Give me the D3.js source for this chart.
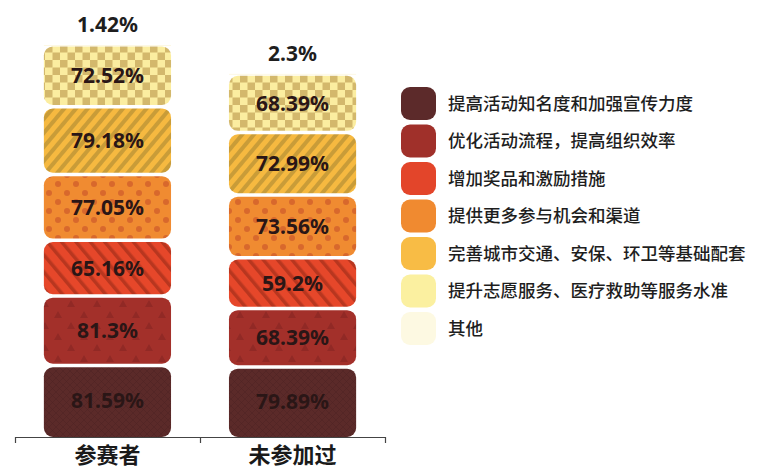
<!DOCTYPE html>
<html>
<head>
<meta charset="utf-8">
<script src="https://cdn.jsdelivr.net/npm/d3@7"></script>
<style>
  body { margin: 0; background: #fff; }
  svg { display: block; font-family: "Noto Sans", "Noto Sans CJK SC", sans-serif; }
</style>
</head>
<body>
<div id="vis"></div>
<script>
'use strict'

// categories and series
const categories = ["参赛者", "未参加过"];
const seriesNames = [
  "提高活动知名度和加强宣传力度",
  "优化活动流程，提高组织效率",
  "增加奖品和激励措施",
  "提供更多参与机会和渠道",
  "完善城市交通、安保、环卫等基础配套",
  "提升志愿服务、医疗救助等服务水准",
  "其他"
];
// values per category, bottom segment first
const participantValues = [81.59, 81.3, 65.16, 77.05, 79.18, 72.52, 1.42];
const nonParticipantValues = [79.89, 68.39, 59.2, 73.56, 72.99, 68.39, 2.3];

const seriesColors = ["#5b2a29", "#a3302a", "#e6472a", "#f08b31", "#f6b940", "#fbeda0", "#fdf7dd"];
const legendColors = ["#5c2a2a", "#a0302a", "#e3452a", "#f08a30", "#f8bc45", "#fbf0a0", "#fdf9e2"];

////////////////////////////////////////
////////////// Setup ///////////////////
////////////////////////////////////////

const width = 768, height = 472;
const svg = d3.select('#vis').append('svg')
  .attr('width', width)
  .attr('height', height);

const table = categories.map((c, i) => {
  const vals = i === 0 ? participantValues : nonParticipantValues;
  const row = { category: c };
  seriesNames.forEach((s, j) => row[s] = vals[j]);
  return row;
});

const stacked = d3.stack().keys(seriesNames)(table);

const x = d3.scaleBand().domain(categories).range([15, 385]).paddingInner(0.313).paddingOuter(0.156);
const y = d3.scaleLinear().domain([0, 460]).range([437, 437 - 460 * 0.855]);

////////////////////////////////////////
////////////// Patterns ////////////////
////////////////////////////////////////

const defs = svg.append('defs');

// 0: crosshatch
let p = defs.append('pattern').attr('id', 'pat0').attr('patternUnits', 'userSpaceOnUse')
  .attr('width', 7).attr('height', 7);
p.append('rect').attr('width', 7).attr('height', 7).attr('fill', seriesColors[0]);
p.append('path').attr('d', 'M0,0L7,7M7,0L0,7').attr('stroke', '#4f2323').attr('stroke-width', 0.6);

// 1: triangles
p = defs.append('pattern').attr('id', 'pat1').attr('patternUnits', 'userSpaceOnUse')
  .attr('width', 26).attr('height', 22);
p.append('rect').attr('width', 26).attr('height', 22).attr('fill', seriesColors[1]);
p.append('path').attr('d', 'M6,3L10,10L2,10Z M19,14L23,21L15,21Z').attr('fill', '#912925');

// 2: stripes "\"
p = defs.append('pattern').attr('id', 'pat2').attr('patternUnits', 'userSpaceOnUse')
  .attr('width', 11).attr('height', 11).attr('patternTransform', 'rotate(-40)');
p.append('rect').attr('width', 11).attr('height', 11).attr('fill', seriesColors[2]);
p.append('rect').attr('width', 3.5).attr('height', 11).attr('fill', '#b8361f');

// 3: dots
p = defs.append('pattern').attr('id', 'pat3').attr('patternUnits', 'userSpaceOnUse')
  .attr('width', 18).attr('height', 18);
p.append('rect').attr('width', 18).attr('height', 18).attr('fill', seriesColors[3]);
p.append('circle').attr('cx', 4).attr('cy', 4).attr('r', 3).attr('fill', '#d8682c');
p.append('circle').attr('cx', 13).attr('cy', 13).attr('r', 3).attr('fill', '#d8682c');

// 4: stripes "/"
p = defs.append('pattern').attr('id', 'pat4').attr('patternUnits', 'userSpaceOnUse')
  .attr('width', 9).attr('height', 9).attr('patternTransform', 'rotate(40)');
p.append('rect').attr('width', 9).attr('height', 9).attr('fill', seriesColors[4]);
p.append('rect').attr('width', 4).attr('height', 9).attr('fill', '#c99c38');

// 5: checker
p = defs.append('pattern').attr('id', 'pat5').attr('patternUnits', 'userSpaceOnUse')
  .attr('width', 15).attr('height', 15);
p.append('rect').attr('width', 15).attr('height', 15).attr('fill', seriesColors[5]);
p.append('rect').attr('width', 7.5).attr('height', 7.5).attr('fill', '#d3b86c');
p.append('rect').attr('x', 7.5).attr('y', 7.5).attr('width', 7.5).attr('height', 7.5).attr('fill', '#d3b86c');

const fillFor = i => i < 6 ? `url(#pat${i})` : seriesColors[i];

////////////////////////////////////////
////////////// Bars ////////////////////
////////////////////////////////////////

const gap = 3.5;

const layers = svg.append('g').selectAll('g')
  .data(stacked)
  .join('g');

layers.selectAll('rect')
  .data((d, i) => d.map(v => ({ v, i })))
  .join('rect')
  .attr('x', d => x(d.v.data.category))
  .attr('width', x.bandwidth())
  .attr('y', d => y(d.v[1]))
  .attr('height', d => Math.max(0.8, y(d.v[0]) - y(d.v[1]) - (d.v[0] > 0 ? gap : 0)))
  .attr('rx', d => d.i === 6 ? 0 : 9)
  .attr('fill', d => fillFor(d.i));

// labels inside segments
layers.filter((d, i) => i < 6).selectAll('text')
  .data(d => d)
  .join('text')
  .attr('x', d => x(d.data.category) + x.bandwidth() / 2)
  .attr('y', d => (y(d[0]) - gap + y(d[1])) / 2)
  .attr('dy', '0.36em')
  .attr('text-anchor', 'middle')
  .attr('font-size', 21)
  .attr('font-weight', 'bold')
  .attr('fill', '#2a1616')
  .text(d => `${+(d[1] - d[0]).toFixed(2)}%`);

// labels above bars for "其他"
layers.filter((d, i) => i === 6).selectAll('text')
  .data(d => d)
  .join('text')
  .attr('x', d => x(d.data.category) + x.bandwidth() / 2)
  .attr('y', d => y(d[1]) - 13)
  .attr('text-anchor', 'middle')
  .attr('font-size', 21)
  .attr('font-weight', 'bold')
  .attr('fill', '#1e1e1e')
  .text(d => `${+(d[1] - d[0]).toFixed(2)}%`);

////////////////////////////////////////
////////////// Axis ////////////////////
////////////////////////////////////////

const edges = d3.scaleLinear().domain([0, categories.length]).range(x.range());

svg.append('g')
  .attr('transform', `translate(0,${y(0)})`)
  .call(d3.axisBottom(edges).tickValues([0, 1, 2]).tickSize(6).tickSizeOuter(0).tickFormat(''))
  .call(g => g.selectAll('line, path').attr('stroke', '#444').attr('stroke-width', 1.2));

svg.append('g')
  .attr('transform', `translate(0,${y(0)})`)
  .call(d3.axisBottom(x).tickSize(0).tickPadding(10))
  .call(g => g.select('.domain').remove())
  .call(g => g.selectAll('text')
    .attr('font-size', 22)
    .attr('font-weight', 'bold')
    .attr('font-family', '"Noto Sans CJK SC", sans-serif')
    .attr('fill', '#1a1a1a'));

////////////////////////////////////////
////////////// Legend //////////////////
////////////////////////////////////////

const legend = svg.append('g').attr('transform', 'translate(401,87)');

const item = legend.selectAll('g')
  .data(seriesNames)
  .join('g')
  .attr('transform', (d, i) => `translate(0,${i * 37.5})`);

item.append('rect')
  .attr('width', 35)
  .attr('height', 33)
  .attr('rx', 9)
  .attr('fill', (d, i) => legendColors[i]);

item.append('text')
  .attr('x', 47)
  .attr('y', 16.5)
  .attr('dy', '0.35em')
  .attr('font-size', 17.5)
  .attr('font-family', '"Noto Sans CJK SC", sans-serif')
  .attr('font-weight', 500)
  .attr('fill', '#1e1e1e')
  .text(d => d);
</script>
</body>
</html>
